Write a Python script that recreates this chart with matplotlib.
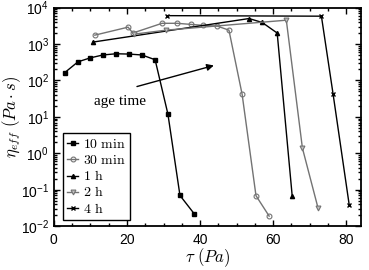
import matplotlib
matplotlib.use("Agg")
import matplotlib.pyplot as plt
from matplotlib.ticker import MultipleLocator, LogLocator, NullFormatter

plt.rcParams['font.family'] = 'Liberation Sans'
plt.rcParams['mathtext.fontset'] = 'cm'
plt.rcParams['font.size'] = 10

# 10 min
tau_10m = [3.0, 6.6, 9.9, 13.4, 17.0, 20.5, 24.1, 27.7, 31.2, 34.5, 38.4]
eta_10m = [165, 325, 415, 500, 540, 530, 500, 370, 12, 0.07, 0.022]
# 30 min
tau_30m = [11.2, 20.3, 21.6, 29.6, 33.7, 37.5, 40.8, 44.7, 47.9, 51.5, 55.3, 58.9]
eta_30m = [1750, 2900, 2000, 3700, 3700, 3450, 3250, 3100, 2400, 42, 0.069, 0.019]
# 1 h
tau_1h = [10.7, 53.4, 57.0, 61.1, 65.2]
eta_1h = [1130, 5000, 3900, 2000, 0.069]
# 2 h
tau_2h = [21.9, 30.7, 63.6, 68.0, 72.3]
eta_2h = [1860, 2400, 4500, 1.4, 0.031]
# 4 h
tau_4h = [31.0, 73.2, 76.4, 80.8]
eta_4h = [6000, 5800, 42, 0.039]

fig = plt.figure(figsize=(3.69, 2.70), dpi=100)
ax = fig.add_axes([0.146, 0.162, 0.832, 0.81])

gris = '0.45'
ax.plot(tau_10m, eta_10m, '-s', color='black', lw=1, ms=3, label=r'$\mathrm{10\ min}$')
ax.plot(tau_30m, eta_30m, '-o', color=gris, lw=1, ms=3.5, mfc='none', mew=0.8, label=r'$\mathrm{30\ min}$')
ax.plot(tau_1h, eta_1h, '-^', color='black', lw=1, ms=3, label=r'$\mathrm{1\ h}$')
ax.plot(tau_2h, eta_2h, '-v', color=gris, lw=1, ms=3.5, mfc='0.75', mew=0.8, label=r'$\mathrm{2\ h}$')
ax.plot(tau_4h, eta_4h, '-x', color='black', lw=1, ms=3.5, mew=1, label=r'$\mathrm{4\ h}$')

ax.set_yscale('log')
ax.set_xlim(0, 84)
ax.set_ylim(1e-2, 1e4)
ax.xaxis.set_major_locator(MultipleLocator(20))
ax.xaxis.set_minor_locator(MultipleLocator(5))
ax.yaxis.set_major_locator(LogLocator(base=10, numticks=10))
ax.yaxis.set_minor_locator(LogLocator(base=10, subs=range(2, 10), numticks=10))
ax.yaxis.set_minor_formatter(NullFormatter())
ax.tick_params(which='both', direction='in', top=True, right=True, width=1)
ax.tick_params(which='major', length=4, labelsize=10)
ax.tick_params(axis='x', which='major', pad=5)
ax.tick_params(which='minor', length=2)
for s in ax.spines.values():
    s.set_linewidth(1.3)

ax.set_xlabel(r'$\tau\ (Pa)$', fontsize=12)
ax.set_ylabel(r'$\eta_{eff}\ (Pa \cdot s)$', fontsize=12)
ax.xaxis.set_label_coords(0.5, -0.09)
ax.yaxis.set_label_coords(-0.1, 0.5)

# flecha de "age time"
ax.annotate('', xy=(44.5, 270), xytext=(22, 65),
            arrowprops=dict(arrowstyle='-|>', color='black', lw=1, mutation_scale=10))
ax.text(18, 26, 'age time', family='Liberation Serif', fontsize=11, ha='center', va='center')

leg = ax.legend(loc='lower left', bbox_to_anchor=(0.03, 0.03), fontsize=10,
                handlelength=0.8, handletextpad=0.3, labelspacing=0.15,
                borderpad=0.3, borderaxespad=0, fancybox=False, framealpha=1,
                edgecolor='black')
leg.get_frame().set_linewidth(1)

fig.savefig('out.png', dpi=100)
